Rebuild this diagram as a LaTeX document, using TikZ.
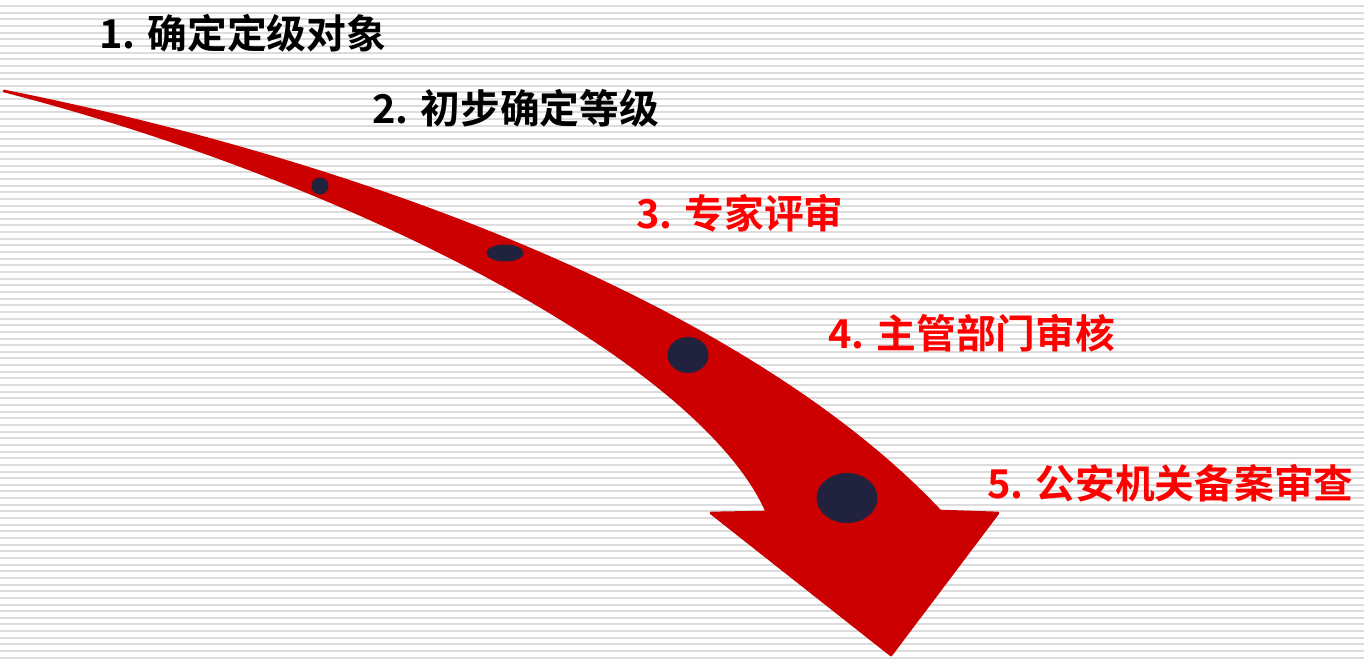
\documentclass[tikz,border=0pt]{standalone}
\usepackage{fontspec}
\newfontfamily\cjkbold{Noto Sans CJK SC}[BoldFont={Noto Sans CJK SC Bold}]
\usepackage{tikz}

\definecolor{arrowred}{RGB}{204,0,0}
\definecolor{textred}{RGB}{255,0,0}
\definecolor{dotblue}{RGB}{32,34,62}
\definecolor{stripe}{RGB}{220,220,220}

\begin{document}
\begin{tikzpicture}[x=0.75pt,y=-0.75pt,
  label_text/.style={anchor=base west,inner sep=0pt,font=\cjkbold\bfseries\fontsize{29.8}{32}\selectfont},
  black_step/.style={label_text,text=black},
  red_step/.style={label_text,text=textred},
  dot/.style={fill=dotblue}]
\useasboundingbox (0,0) rectangle (1364,665);
\fill[white] (0,0) rectangle (1364,665);
% stripes
\foreach \i in {0,...,98}
  \draw[stripe,line width=1.5pt] (0,6+6.65*\i) -- (1364,6+6.65*\i);
% arrow
\filldraw[arrowred,line width=2pt,line join=round]
  (4,91) .. controls (400,170) and (760,320) .. (940,511)
  -- (998,513) -- (891,655) -- (711,513) -- (767,512)
  .. controls (700,360) and (350,180) .. (4,91) -- cycle;
% dots
\fill[dot] (320,186) ellipse [x radius=8.5,y radius=8.5];
\fill[dot] (505,253) ellipse [x radius=18.5,y radius=8.5];
\fill[dot] (688,355) ellipse [x radius=20.5,y radius=18];
\fill[dot] (847,498) ellipse [x radius=30.5,y radius=25];
% steps
\node[black_step] (s_1) at (99,48)   {1. 确定定级对象};
\node[black_step] (s_2) at (372,123) {2. 初步确定等级};
\node[red_step]   (s_3) at (636,228) {3. 专家评审};
\node[red_step]   (s_4) at (828,348) {4. 主管部门审核};
\node[red_step]   (s_5) at (987,498) {5. 公安机关备案审查};
\end{tikzpicture}
\end{document}
